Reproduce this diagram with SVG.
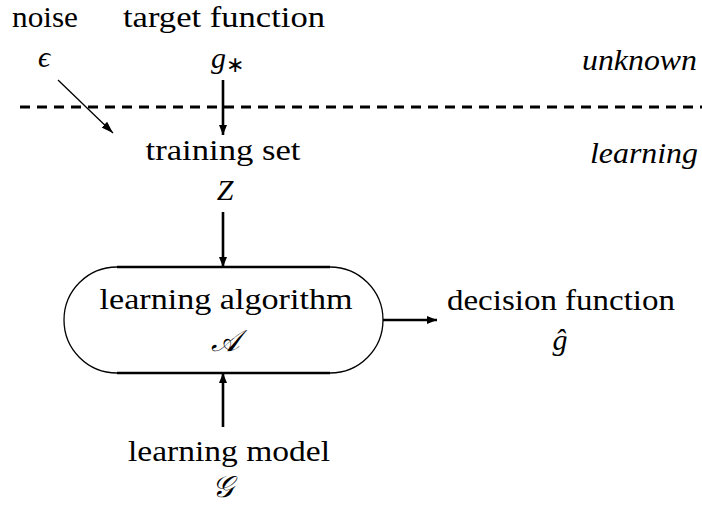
<svg xmlns="http://www.w3.org/2000/svg" width="702" height="508" viewBox="0 0 702 508">
<defs>
<marker id="ah" viewBox="0 0 10 8" refX="10" refY="4" markerWidth="10" markerHeight="8" markerUnits="userSpaceOnUse" orient="auto">
<path d="M0,0 L10,4 L0,8 Z" fill="#000"/>
</marker>
<marker id="ahs" viewBox="0 0 12 8" refX="12" refY="4" markerWidth="12" markerHeight="8" markerUnits="userSpaceOnUse" orient="auto">
<path d="M0,0 L12,4 L0,8 Z" fill="#000"/>
</marker>
</defs>
<style>
text{font-family:"Liberation Serif","Times New Roman",serif;font-size:30px;fill:#000}
.it{font-style:italic}
.c{text-anchor:middle}
.thick{stroke:#000;stroke-width:2.6;fill:none}
.thin{stroke:#000;stroke-width:1.3;fill:none}
</style>
<rect width="702" height="508" fill="#fff"/>
<g id="labels">
<text x="12" y="27" textLength="66" lengthAdjust="spacingAndGlyphs">noise</text>
<text x="123" y="27" textLength="202" lengthAdjust="spacingAndGlyphs">target function</text>
<text class="it" x="582" y="70" textLength="115" lengthAdjust="spacingAndGlyphs">unknown</text>
<text class="it" x="590" y="163" textLength="108" lengthAdjust="spacingAndGlyphs">learning</text>
<line x1="20" y1="107" x2="702" y2="107" stroke="#000" stroke-width="3" stroke-dasharray="10 7"/>
</g>
<g id="noise">
<text class="it c" x="44" y="67">ϵ</text>
</g>
<g id="target">
<text class="it" x="211" y="68">g<tspan font-size="22" dy="4" font-style="normal">∗</tspan></text>
</g>
<g id="training">
<text class="c" x="223" y="160" textLength="155" lengthAdjust="spacingAndGlyphs">training set</text>
<text class="it c" x="225" y="200">Z</text>
</g>
<g id="algorithm">
<path class="thin" d="M117,267 A53,53 0 0 0 117,373 M330,267 A53,53 0 0 1 330,373"/>
<line class="thick" x1="117" y1="267" x2="330" y2="267"/>
<line class="thick" x1="117" y1="373" x2="330" y2="373"/>
<text class="c" x="226" y="309" textLength="253" lengthAdjust="spacingAndGlyphs">learning algorithm</text>
<text class="it c" x="225" y="351">𝒜</text>
</g>
<g id="decision">
<text class="c" x="561" y="310" textLength="228" lengthAdjust="spacingAndGlyphs">decision function</text>
<text class="it c" x="560" y="350">ĝ</text>
</g>
<g id="model">
<text class="c" x="229" y="461" textLength="202" lengthAdjust="spacingAndGlyphs">learning model</text>
<text class="it c" x="222" y="497">𝒢</text>
</g>
<g id="connectors">
<line class="thin" x1="58" y1="80" x2="113" y2="133" marker-end="url(#ahs)"/>
<line class="thick" x1="223" y1="80" x2="223" y2="135" marker-end="url(#ah)"/>
<line class="thick" x1="223" y1="212" x2="223" y2="267" marker-end="url(#ah)"/>
<line class="thick" x1="383" y1="320" x2="437" y2="320" marker-end="url(#ah)"/>
<line class="thick" x1="223" y1="427" x2="223" y2="373" marker-end="url(#ah)"/>
</g>
</svg>
